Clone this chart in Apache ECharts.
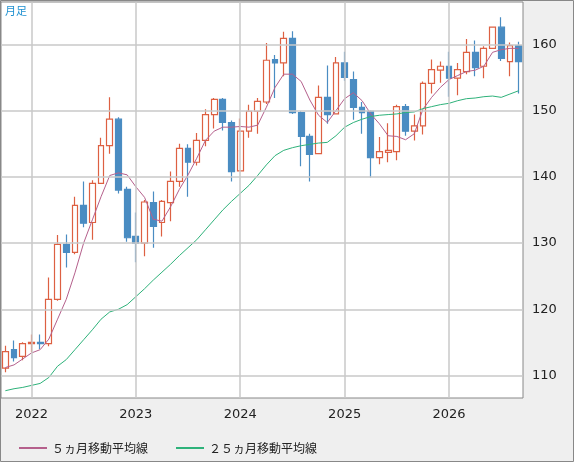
<!DOCTYPE html>
<html><head><meta charset="utf-8">
<script src="https://cdn.jsdelivr.net/npm/echarts@6/dist/echarts.min.js"></script>
<style>html,body{margin:0;padding:0;background:#efefef}#c{width:574px;height:462px}</style>
</head><body><div id="c"></div>
<script>
const months = [];
for (let y = 2021, m = 10; !(y === 2026 && m === 10); ) { months.push(y + '-' + String(m).padStart(2,'0')); m++; if (m > 12) { m = 1; y++; } }
// [open, close, low, high]
const ohlc = [
[111.1,113.6,110.5,114.5],[113.9,112.7,112.1,115.3],[112.9,114.8,112.3,115.0],
[114.8,115.0,113.5,116.2],[115.0,114.8,114.0,116.2],[114.8,121.5,114.4,124.8],[121.5,129.8,121.3,131.2],[129.8,128.6,126.3,131.3],[128.6,135.7,128.3,137.0],[135.7,133.0,132.4,139.3],[133.1,139.0,130.5,139.5],[139.0,144.7,139.0,145.9],[144.7,148.7,143.5,152.0],[148.7,138.0,137.5,149.0],[138.1,130.8,130.2,138.5],
[131.0,130.0,127.1,134.6],[130.0,136.2,128.0,136.5],[136.1,132.5,129.3,137.8],[133.1,136.3,131.0,136.5],[136.1,139.3,133.3,140.8],[139.3,144.3,138.5,145.0],[144.3,142.2,137.0,144.9],[142.2,145.5,141.7,146.6],[145.5,149.4,144.6,150.2],[149.4,151.7,147.3,151.9],[151.7,148.2,147.0,151.9],[148.2,140.8,139.3,148.5],
[140.9,146.9,140.8,148.8],[146.9,149.9,145.9,150.9],[149.9,151.4,146.5,151.9],[151.3,157.6,151.0,160.2],[157.7,157.2,151.9,158.4],[157.2,160.9,155.2,161.9],[160.9,149.7,149.5,162.0],[149.7,146.1,141.6,149.9],[146.1,143.4,139.3,146.5],[143.5,152.0,143.4,153.8],[152.0,149.4,148.0,156.8],[149.5,157.2,149.4,158.1],
[157.2,155.0,154.5,158.9],[154.7,150.5,148.6,155.9],[150.5,149.7,146.5,151.3],[149.9,142.9,139.9,150.0],[142.9,143.8,141.9,146.0],[143.7,144.0,142.2,148.1],[143.8,150.6,142.5,150.9],[150.6,146.9,146.2,151.0],[146.9,147.7,145.5,149.4],[147.7,154.1,146.4,154.4],[154.1,156.2,152.6,157.7],[156.1,156.7,154.2,157.4],
[156.7,154.9,152.1,158.9],[154.9,156.2,152.3,157.2],[155.9,158.8,155.5,160.8],[158.8,156.5,155.2,160.6],[156.7,159.4,154.9,159.7],[159.4,162.6,159.3,162.7],[162.6,157.9,157.5,164.1],[157.4,159.8,155.2,160.3],[159.8,157.4,152.6,160.4]
];
const ma5 = [111.2,111.6,112.5,113.4,113.9,115.5,118.5,121.5,125.5,130.0,133.5,137.0,140.2,140.6,140.3,
138.5,136.9,133.6,133.3,135.5,138.1,140.3,142.8,145.5,146.9,147.5,147.5,
147.6,147.5,147.8,150.5,153.5,155.5,155.5,154.4,151.6,149.3,148.2,150.0,
151.8,152.7,151.5,149.5,148.0,146.2,146.1,145.6,146.5,150.2,152.0,153.5,
154.7,155.3,155.9,156.1,156.7,158.8,159.2,159.4,159.4];
const ma25 = [107.7,108.0,108.2,108.5,108.8,109.7,111.4,112.4,113.9,115.4,116.9,118.5,119.6,120.0,120.7,
121.9,123.1,124.4,125.6,126.8,128.1,129.3,130.5,132.0,133.5,135.0,136.3,
137.5,138.7,140.2,141.8,143.2,144.0,144.4,144.7,144.9,145.1,145.2,146.2,
147.5,148.2,148.7,149.1,149.3,149.4,149.5,149.7,149.8,150.3,150.6,150.9,
151.1,151.5,151.8,151.9,152.1,152.2,152.0,152.5,153.0];
const yTicks = [110,120,130,140,150,160];
const yearMarks = ['2022-01','2023-01','2024-01','2025-01','2026-01'];

const chart = echarts.init(document.getElementById('c'));
chart.setOption({
  animation:false,
  backgroundColor:'#efefef',
  textStyle:{fontFamily:'DejaVu Sans'},
  graphic:[
    {type:'rect',shape:{x:0.5,y:0.5,width:573,height:461},style:{fill:'none',stroke:'#888'},z:0},
    {type:'text',left:5,top:5,style:{text:'月足',fill:'#1e90d0',font:'11px "Noto Sans CJK JP"'},z:100}
  ],
  grid:{left:1,right:51,top:2,bottom:64,show:true,backgroundColor:'#fff',borderColor:'#888',borderWidth:1},
  legend:{left:14,top:437,itemWidth:28,itemHeight:2,itemGap:28,icon:'rect',
    textStyle:{fontFamily:'Noto Sans CJK JP',fontSize:12,color:'#222'},
    data:['５ヵ月移動平均線','２５ヵ月移動平均線']},
  xAxis:{type:'category',data:months,boundaryGap:true,
    axisLine:{show:false},axisTick:{show:false},splitLine:{show:false},
    axisLabel:{interval:(i,v)=>v.endsWith('-01'),formatter:v=>v.slice(0,4),color:'#222',fontSize:13,margin:10}},
  yAxis:{type:'value',position:'right',min:106.6,max:166.4,scale:true,
    axisLine:{show:false},axisTick:{show:false},splitLine:{show:false},
    axisLabel:{customValues:yTicks,color:'#222',fontSize:13,margin:9}},
  series:[
    {type:'candlestick',data:ohlc,barWidth:'72%',
      itemStyle:{color:'#ffffff',color0:'#4a8cc2',borderColor:'#dd6042',borderColor0:'#4a8cc2',borderWidth:1.2},
      markLine:{silent:true,symbol:'none',label:{show:false},animation:false,
        lineStyle:{color:'#c8c8c8',type:'solid',width:1.5},
        data:yTicks.map(v=>({yAxis:v})).concat(yearMarks.map(v=>({xAxis:v})))},
      z:3},
    {name:'５ヵ月移動平均線',type:'line',data:ma5,symbol:'none',lineStyle:{color:'#b5608c',width:1},itemStyle:{color:'#b5608c'},z:4},
    {name:'２５ヵ月移動平均線',type:'line',data:ma25,symbol:'none',lineStyle:{color:'#2eb27a',width:1},itemStyle:{color:'#2eb27a'},z:4}
  ]
});
</script></body></html>
